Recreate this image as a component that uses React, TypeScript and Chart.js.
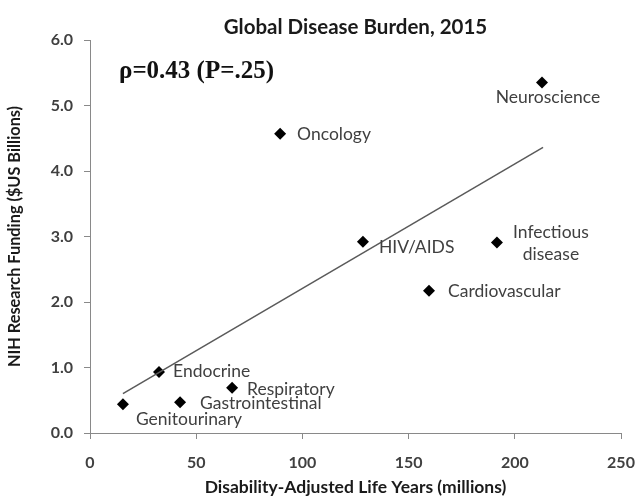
import React, { useEffect, useRef } from "react";
import { Chart, registerables } from "chart.js";

Chart.register(...registerables);

const categories = [
  "Neuroscience",
  "Oncology",
  "HIV/AIDS",
  "Infectious disease",
  "Cardiovascular",
  "Endocrine",
  "Respiratory",
  "Gastrointestinal",
  "Genitourinary",
];
const dalys = [212.8, 89.5, 128.5, 191.6, 159.6, 32.5, 66.9, 42.4, 15.5];
const funding = [5.35, 4.57, 2.92, 2.91, 2.17, 0.93, 0.69, 0.47, 0.44];
const trendX = [15.5, 213.3];
const trendY = [0.6, 4.36];
const xTicks = [0, 50, 100, 150, 200, 250];
const yTicks = [0, 1, 2, 3, 4, 5, 6];

const titleText = "Global Disease Burden, 2015";
const annotationText = "ρ=0.43 (P=.25)";
const xTitle = "Disability-Adjusted Life Years (millions)";
const yTitle = "NIH Research Funding ($US Billions)";

// label placement (pixel offsets from the marker), style only
const labelPlacement: { lines: string[]; dx: number; dy: number; align: CanvasTextAlign }[] = [
  { lines: ["Neuroscience"], dx: 6, dy: 15, align: "center" },
  { lines: ["Oncology"], dx: 17, dy: 1, align: "left" },
  { lines: ["HIV/AIDS"], dx: 16, dy: 6, align: "left" },
  { lines: ["Infectious", "disease"], dx: 54, dy: -10, align: "center" },
  { lines: ["Cardiovascular"], dx: 19, dy: 0, align: "left" },
  { lines: ["Endocrine"], dx: 14, dy: -1, align: "left" },
  { lines: ["Respiratory"], dx: 15, dy: 2, align: "left" },
  { lines: ["Gastrointestinal"], dx: 20, dy: 1, align: "left" },
  { lines: ["Genitourinary"], dx: 13, dy: 15, align: "left" },
];

const FONT = "Lato, 'Open Sans', sans-serif";

const overlayPlugin = {
  id: "overlay",
  afterDatasetsDraw(chart: any) {
    const ctx = chart.ctx as CanvasRenderingContext2D;
    const xs = chart.scales.x;
    const ys = chart.scales.y;
    const area = chart.chartArea;
    ctx.save();
    // title
    ctx.fillStyle = "#1a1a1a";
    ctx.font = `bold 20.5px ${FONT}`;
    ctx.textAlign = "center";
    ctx.textBaseline = "middle";
    ctx.fillText(titleText, (area.left + area.right) / 2, 27);
    // annotation
    ctx.font = "bold 25px 'Liberation Serif', 'DejaVu Serif', serif";
    ctx.textAlign = "left";
    ctx.textBaseline = "alphabetic";
    ctx.fillStyle = "#111111";
    ctx.fillText(annotationText, 119, 78);
    // data labels
    ctx.font = `17.5px ${FONT}`;
    ctx.fillStyle = "#404040";
    ctx.textBaseline = "middle";
    categories.forEach((_, i) => {
      const p = labelPlacement[i];
      const px = xs.getPixelForValue(dalys[i]);
      const py = ys.getPixelForValue(funding[i]);
      ctx.textAlign = p.align;
      p.lines.forEach((line, j) => {
        ctx.fillText(line, px + p.dx, py + p.dy + j * 22);
      });
    });
    ctx.restore();
  },
};

export default function App() {
  const canvasRef = useRef<HTMLCanvasElement | null>(null);

  useEffect(() => {
    document.body.style.margin = "0";
    const canvas = canvasRef.current;
    if (!canvas) return;
    const chart = new Chart(canvas, {
      type: "scatter",
      data: {
        datasets: [
          {
            label: "Trend",
            data: trendX.map((x, i) => ({ x, y: trendY[i] })),
            showLine: true,
            borderColor: "#5a5a5a",
            borderWidth: 1.5,
            pointRadius: 0,
            pointHoverRadius: 0,
          } as any,
          {
            label: "Disease areas",
            data: dalys.map((x, i) => ({ x, y: funding[i] })),
            pointStyle: "rectRot",
            pointRadius: 6,
            backgroundColor: "#000000",
            borderColor: "#000000",
            borderWidth: 0,
          },
        ],
      },
      options: {
        animation: false,
        responsive: false,
        maintainAspectRatio: false,
        layout: { padding: { top: 40, right: 21, left: 0, bottom: 0 } },
        plugins: {
          legend: { display: false },
          tooltip: { enabled: false },
          title: { display: false },
        },
        scales: {
          x: {
            type: "linear",
            min: 0,
            max: 250,
            afterBuildTicks: (scale: any) => {
              scale.ticks = xTicks.map((v) => ({ value: v }));
            },
            afterFit: (scale: any) => {
              scale.height = 65;
              scale.paddingLeft = 0;
              scale.paddingRight = 0;
            },
            ticks: {
              padding: 14,
              color: "#404040",
              font: { family: FONT, size: 16, weight: "bold" },
              callback: (v: any) => String(v),
            },
            grid: {
              display: true,
              drawOnChartArea: false,
              drawTicks: true,
              tickLength: 6,
              color: "#898989",
            },
            border: { display: true, color: "#898989", width: 1 },
            title: {
              display: true,
              text: xTitle,
              color: "#1a1a1a",
              font: { family: FONT, size: 17.5, weight: "bold" },
              padding: { top: 0, bottom: 0 },
            },
          },
          y: {
            type: "linear",
            min: 0,
            max: 6,
            afterBuildTicks: (scale: any) => {
              scale.ticks = yTicks.map((v) => ({ value: v }));
            },
            afterFit: (scale: any) => {
              scale.width = 90;
              scale.paddingTop = 0;
              scale.paddingBottom = 0;
            },
            ticks: {
              padding: 11,
              color: "#404040",
              font: { family: FONT, size: 16, weight: "bold" },
              callback: (v: any) => Number(v).toFixed(1),
            },
            grid: {
              display: true,
              drawOnChartArea: false,
              drawTicks: true,
              tickLength: 6,
              color: "#898989",
            },
            border: { display: true, color: "#898989", width: 1 },
            title: {
              display: true,
              text: yTitle,
              color: "#1a1a1a",
              font: { family: FONT, size: 16.3, weight: "bold" },
              padding: { top: 5, bottom: 0 },
            },
          },
        },
      },
      plugins: [overlayPlugin],
    });
    return () => chart.destroy();
  }, []);

  return (
    <div style={{ width: 642, height: 498 }}>
      <canvas ref={canvasRef} width={642} height={498} style={{ width: 642, height: 498, display: "block" }} />
    </div>
  );
}
